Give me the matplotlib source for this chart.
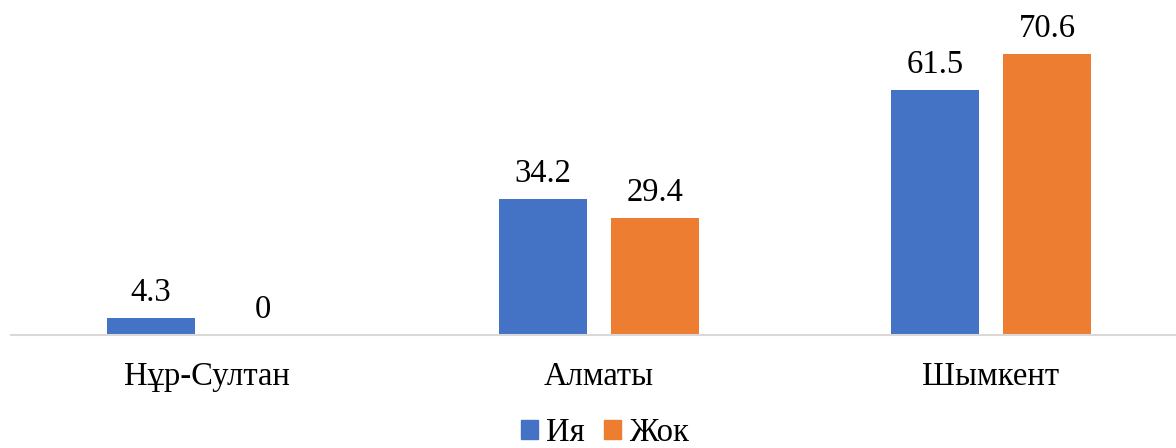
import numpy as np
import matplotlib.pyplot as plt
from matplotlib.patches import Patch

plt.rcParams['font.family'] = ['Liberation Serif', 'DejaVu Serif']

# --- Data ---
cities = ['Нұр-Султан', 'Алматы', 'Шымкент']
yes_vals = [4.3, 34.2, 61.5]
no_vals = [0, 29.4, 70.6]
series_names = ['Ия', 'Жок']
colors = ['#4472C4', '#ED7D31']

W, H = 1176, 448
fs = 23.5
fig = plt.figure(figsize=(W / 100, H / 100), dpi=100)
ax = fig.add_axes([11 / W, 113 / H, (W - 11) / W, 335 / H])

x = np.arange(len(cities))
bw = 88 / 392
off = 56 / 392

b1 = ax.bar(x - off, yes_vals, bw, color=colors[0])
b2 = ax.bar(x + off, no_vals, bw, color=colors[1])

for bars, vals in [(b1, yes_vals), (b2, no_vals)]:
    for rect, v in zip(bars, vals):
        ax.annotate(f'{v:g}', (rect.get_x() + rect.get_width() / 2, v),
                    xytext=(0, 12.2), textcoords='offset points',
                    ha='center', va='baseline', fontsize=fs)

ax.set_xlim(-0.5, -0.5 + (W - 11) / 392)
ax.set_ylim(0, 335 / 3.98)
ax.set_xticks(x)
ax.set_xticklabels(cities, fontsize=fs)
ax.tick_params(axis='x', length=0, pad=19)
ax.set_yticks([])
for s in ['top', 'right', 'left']:
    ax.spines[s].set_visible(False)
ax.spines['bottom'].set_color('#D9D9D9')
ax.spines['bottom'].set_linewidth(1.5)

handles = [Patch(color=c) for c in colors]
fig.legend(handles, series_names, loc='center', bbox_to_anchor=(605 / W, 15 / H),
           ncol=2, frameon=False, fontsize=fs, handlelength=0.5, handleheight=0.5,
           handletextpad=0.25, columnspacing=0.6, borderpad=0)

fig.savefig('out.png', dpi=100)
